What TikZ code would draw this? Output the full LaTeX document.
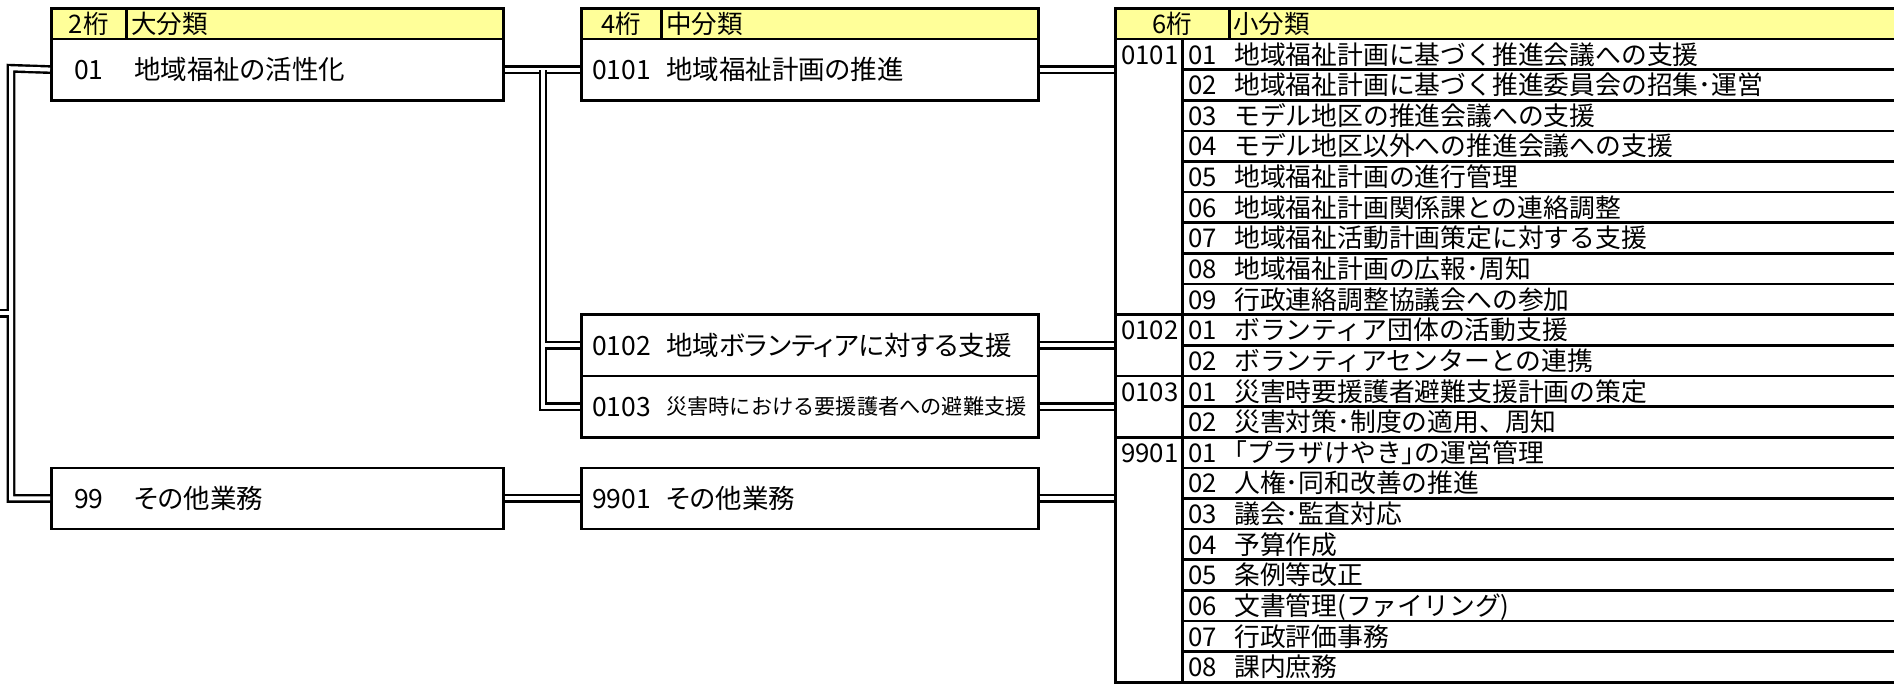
\documentclass[tikz,border=0pt]{standalone}
\usepackage{fontspec}
\newfontfamily\jp{Noto Sans CJK JP}
\newfontfamily\jpp[RawFeature=+palt]{Noto Sans CJK JP}
\usetikzlibrary{calc}
\definecolor{hdr}{RGB}{255,255,153}
\begin{document}
\begin{tikzpicture}[x=1pt,y=-1pt,
  box/.style={draw, line width=2.6pt, rectangle, anchor=north west, inner sep=0pt, minimum height=61.27pt},
  hcell/.style={draw, line width=2.6pt, fill=hdr, rectangle, anchor=north west, inner sep=0pt, minimum height=30.636pt},
  hdtxt/.style={inner sep=0pt, anchor=west, font=\jp\fontsize{25.5}{30}\selectfont, text height=22.4pt, text depth=3pt},
  txt/.style={inner sep=0pt, anchor=west, font=\jpp\fontsize{26.5}{31}\selectfont, text height=23.3pt, text depth=3.2pt},
  tbl/.style={inner sep=0pt, anchor=west, font=\jp\fontsize{25.8}{30}\selectfont, text height=22.7pt, text depth=3.1pt},
  smalltxt/.style={inner sep=0pt, anchor=west, font=\jp\fontsize{21.2}{25}\selectfont, text height=18.6pt, text depth=2.5pt},
  dbl/.style={draw, line width=2.4pt, double=white, double distance=4pt},
  rowcell/.style={draw, line width=2.6pt, rectangle, anchor=north west, inner sep=0pt, minimum width=740pt, minimum height=30.636pt},
  grp/.style={draw, line width=2.6pt, rectangle, anchor=north west, inner sep=0pt, minimum width=67pt},
]
\useasboundingbox (0,0) rectangle (1894,685);
\clip (0,0) rectangle (1894,685);

% ---- column 1 ----
\node[hcell, minimum width=75pt] (h1a) at (50,7) {};
\node[hcell, minimum width=377pt] (h1b) at (125,7) {};
\node[hdtxt, anchor=center] (h1at) at (h1a.center) {2桁};
\node[hdtxt] (h1bt) at ([xshift=6pt]h1b.west) {大分類};

\node[box, minimum width=452pt] (b01) at (50,37.64) {};
\node[txt] (t01n) at ([xshift=24pt]b01.west) {01};
\node[txt] (t01) at ([xshift=84pt]b01.west) {地域福祉の活性化};

\node[box, minimum width=452pt] (b99) at (50,466.54) {};
\node[txt] (t99n) at ([xshift=24pt]b99.west) {99};
\node[txt] (t99) at ([xshift=84pt]b99.west) {その他業務};

% ---- column 2 ----
\node[hcell, minimum width=80pt] (h2a) at (580,7) {};
\node[hcell, minimum width=377pt] (h2b) at (660,7) {};
\node[hdtxt, anchor=center] (h2at) at (h2a.center) {4桁};
\node[hdtxt] (h2bt) at ([xshift=6pt]h2b.west) {中分類};

\node[box, minimum width=457pt] (b0101) at (580,37.64) {};
\node[txt] (t0101n) at ([xshift=12pt]b0101.west) {0101};
\node[txt] (t0101) at ([xshift=86pt]b0101.west) {地域福祉計画の推進};

\node[box, minimum width=457pt] (b0102) at (580,313.36) {};
\node[txt] (t0102n) at ([xshift=12pt]b0102.west) {0102};
\node[txt] (t0102) at ([xshift=86pt]b0102.west) {地域ボランティアに対する支援};

\node[box, minimum width=457pt] (b0103) at (580,374.63) {};
\node[txt] (t0103n) at ([xshift=12pt]b0103.west) {0103};
\node[smalltxt] (t0103) at ([xshift=86pt]b0103.west) {災害時における要援護者への避難支援};

\node[box, minimum width=457pt] (b9901) at (580,466.54) {};
\node[txt] (t9901n) at ([xshift=12pt]b9901.west) {9901};
\node[txt] (t9901) at ([xshift=86pt]b9901.west) {その他業務};

% ---- table ----
\node[hcell, minimum width=114pt] (h3a) at (1114,7) {};
\node[hcell, minimum width=700pt] (h3b) at (1228,7) {};
\node[hdtxt, anchor=center] (h3at) at (h3a.center) {6桁};
\node[hdtxt] (h3bt) at ([xshift=5pt]h3b.west) {小分類};

\foreach \ra/\rb/\rc in {
  1/01/地域福祉計画に基づく推進会議への支援,
  2/02/地域福祉計画に基づく推進委員会の招集･運営,
  3/03/モデル地区の推進会議への支援,
  4/04/モデル地区以外への推進会議への支援,
  5/05/地域福祉計画の進行管理,
  6/06/地域福祉計画関係課との連絡調整,
  7/07/地域福祉活動計画策定に対する支援,
  8/08/地域福祉計画の広報･周知,
  9/09/行政連絡調整協議会への参加,
  10/01/ボランティア団体の活動支援,
  11/02/ボランティアセンターとの連携,
  12/01/災害時要援護者避難支援計画の策定,
  13/02/災害対策･制度の適用、周知,
  14/01/｢プラザけやき｣の運営管理,
  15/02/人権･同和改善の推進,
  16/03/議会･監査対応,
  17/04/予算作成,
  18/05/条例等改正,
  19/06/文書管理(ファイリング),
  20/07/行政評価事務,
  21/08/課内庶務}{
  \node[rowcell] (row\ra) at (1181,{7+30.636*\ra}) {};
  \node[tbl] (rn\ra) at ([xshift=7pt]row\ra.west) {\rb};
  \node[tbl] (rt\ra) at ([xshift=53pt]row\ra.west) {\rc};
}

\node[grp, minimum height=275.72pt] (g0101) at (1114,37.64) {};
\node[grp, minimum height=61.27pt] (g0102) at (1114,313.36) {};
\node[grp, minimum height=61.27pt] (g0103) at (1114,374.63) {};
\node[grp, minimum height=245.09pt] (g9901) at (1114,435.90) {};
\node[tbl] (l0101) at ([xshift=7pt,yshift=-16.6pt]g0101.north west) {0101};
\node[tbl] (l0102) at ([xshift=7pt,yshift=-16.6pt]g0102.north west) {0102};
\node[tbl] (l0103) at ([xshift=7pt,yshift=-16.6pt]g0103.north west) {0103};
\node[tbl] (l9901) at ([xshift=7pt,yshift=-16.6pt]g9901.north west) {9901};

% ---- connectors ----
\coordinate (v1) at (11,68.27);
\coordinate (v2) at (543,68.27);
\coordinate (stub) at (-4,313.36);
\draw[dbl] (b01.west) -- (v1) |- (b99.west);
\draw[dbl] (stub) -- ([xshift=-2pt]stub -| v1);
\draw[dbl] (b01.east) -- (b0101.west);
\draw[dbl] ([yshift=-2pt]v2) |- (b0103.west);
\draw[dbl] ([xshift=2pt]v2 |- b0102.west) -- (b0102.west);
\draw[dbl] (b99.east) -- (b9901.west);
\draw[dbl] (b0101.east) -- (b0101.east -| g0101.west);
\draw[dbl] (b0102.east) -- (b0102.east -| g0102.west);
\draw[dbl] (b0103.east) -- (b0103.east -| g0103.west);
\draw[dbl] (b9901.east) -- (b9901.east -| g9901.west);
\end{tikzpicture}
\end{document}
